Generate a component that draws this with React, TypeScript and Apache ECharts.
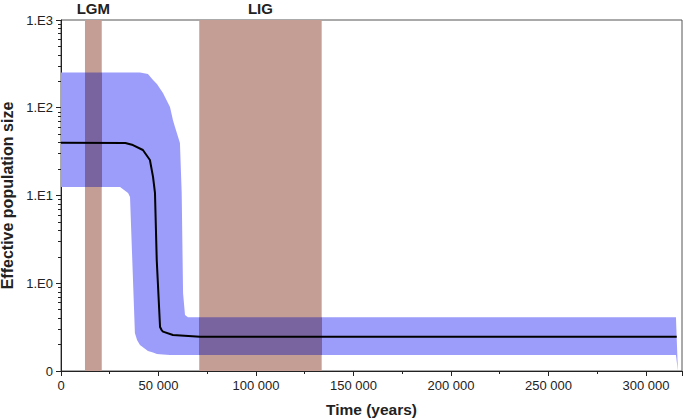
import React, { useEffect, useRef } from 'react';
import * as echarts from 'echarts';

// 95% HPD band (time in years, population size)
const bandTime = [0, 30300, 34400, 35400, 37900, 39000, 40500, 44600, 47200, 49200, 52300, 55900, 57400, 58500, 61000, 61900, 62600, 63600, 65100, 71300, 315400, 316400];
const bandLower = [12.5, 12.5, 10.7, 9.6, 0.271, 0.225, 0.198, 0.169, 0.162, 0.156, 0.154, 0.152, 0.152, 0.152, 0.152, 0.152, 0.152, 0.152, 0.152, 0.152, 0.152, 0.1];
const bandUpper = [253, 253, 253, 253, 253, 253, 253, 243, 207, 187, 147, 102, 72.5, 60, 39.7, 10.7, 0.775, 0.435, 0.41, 0.41, 0.41, 0.1];

// median line
const medianTime = [0, 33000, 36900, 42000, 45600, 47200, 48200, 49100, 50800, 51600, 52300, 57400, 71300, 315800];
const medianValue = [40, 39.6, 37.6, 33, 25.4, 16.3, 10.7, 1.84, 0.317, 0.293, 0.281, 0.257, 0.245, 0.245];

// climatic periods
const periodNames = ['LGM', 'LIG'];
const periodStart = [12300, 70900];
const periodEnd = [20900, 133700];

// axes
const xMin = 0;
const xMax = 318500;
const xInterval = 50000;
const xMinorTicks = [25000, 75000, 125000, 175000, 225000, 275000];
const yDecades = [0.1, 1, 10, 100, 1000];
const yTickLabels = ['0', '1.E0', '1.E1', '1.E2', '1.E3'];
const minorMultipliers = [2, 3, 4, 5, 6, 7, 8, 9];

const BLUE = '#9c9cfb';
const PURPLE = '#7a64a0';
const BROWN = '#c49e94';
const TEXT = '#222';
const FONT = '"Liberation Sans", Arial, sans-serif';

function fmtX(v: number): string {
  if (v % xInterval !== 0) return '';
  return String(v).replace(/\B(?=(\d{3})+(?!\d))/g, ' ');
}

function fmtY(v: number): string {
  for (let i = 0; i < yDecades.length; i++) {
    if (Math.abs(Math.log10(v) - Math.log10(yDecades[i])) < 1e-6) return yTickLabels[i];
  }
  return '';
}

export default function App() {
  const ref = useRef<HTMLDivElement>(null);
  useEffect(() => {
    if (!ref.current) return;
    const chart = echarts.init(ref.current, undefined, { renderer: 'svg' });
    const yMinor: number[] = [];
    yDecades.slice(0, -1).forEach((d) => minorMultipliers.forEach((m) => yMinor.push(d * m)));

    const renderBand = (params: any, api: any) => {
      if (params.dataIndex !== 0) return null;
      const n = bandTime.length;
      const top: number[][] = [];
      const bottom: number[][] = [];
      for (let i = 0; i < n; i++) {
        const t = api.value(0, i);
        top.push(api.coord([t, api.value(2, i)]));
        bottom.push(api.coord([t, api.value(1, i)]));
      }
      const points = top.concat(bottom.reverse());
      const left = api.coord([xMin, 1])[0];
      const right = api.coord([xMax, 1])[0];
      const w = right - left;
      const stops: any[] = [{ offset: 0, color: BLUE }];
      periodStart.forEach((s, i) => {
        const a = Math.max(0, Math.min(1, (api.coord([s, 1])[0] - left) / w));
        const b = Math.max(0, Math.min(1, (api.coord([periodEnd[i], 1])[0] - left) / w));
        stops.push({ offset: a, color: BLUE }, { offset: a, color: PURPLE }, { offset: b, color: PURPLE }, { offset: b, color: BLUE });
      });
      stops.push({ offset: 1, color: BLUE });
      return {
        type: 'polygon',
        shape: { points },
        style: {
          fill: new echarts.graphic.LinearGradient(left, 0, right, 0, stops, true),
          stroke: 'none',
        },
      };
    };

    const axisLineStyle = { color: TEXT, width: 1 };
    const option: any = {
      animation: false,
      textStyle: { fontFamily: FONT },
      grid: {
        left: 61, right: 3, top: 20, bottom: 48,
        show: true, borderColor: '#555', borderWidth: 1, backgroundColor: '#fff',
        outerBoundsMode: 'none',
      },
      xAxis: [
        {
          type: 'value', min: xMin, max: xMax, interval: xInterval,
          name: 'Time (years)', nameLocation: 'middle', nameGap: 30,
          nameTextStyle: { fontSize: 15.5, fontWeight: 'bold', color: TEXT, fontFamily: FONT },
          axisLine: { show: true, onZero: false, lineStyle: axisLineStyle },
          axisTick: { show: true, length: 5, lineStyle: axisLineStyle },
          minorTick: { show: false },
          axisLabel: { formatter: fmtX, fontSize: 13, color: TEXT, margin: 8, fontFamily: FONT },
          splitLine: { show: false },
        },
        {
          type: 'value', min: xMin, max: xMax, position: 'bottom',
          axisLine: { show: false },
          axisTick: { show: true, length: 3, lineStyle: axisLineStyle, customValues: xMinorTicks },
          axisLabel: { show: false },
          splitLine: { show: false },
        },
      ],
      yAxis: [
        {
          type: 'log', logBase: 10, min: yDecades[0], max: yDecades[yDecades.length - 1],
          name: 'Effective population size', nameLocation: 'middle', nameGap: 37,
          nameTextStyle: { fontSize: 16, fontWeight: 'bold', color: TEXT, fontFamily: FONT },
          axisLine: { show: true, onZero: false, lineStyle: axisLineStyle },
          axisTick: { show: true, length: 5, lineStyle: axisLineStyle, customValues: yDecades },
          axisLabel: { formatter: fmtY, fontSize: 13, color: TEXT, margin: 8, fontFamily: FONT, customValues: yDecades },
          splitLine: { show: false },
          minorTick: { show: false },
        },
        {
          type: 'log', logBase: 10, min: yDecades[0], max: yDecades[yDecades.length - 1], position: 'left',
          axisLine: { show: false },
          axisTick: { show: true, length: 3, lineStyle: axisLineStyle, customValues: yMinor },
          axisLabel: { show: false },
          splitLine: { show: false },
        },
      ],
      series: [
        {
          name: 'periods', type: 'line', symbol: 'none', silent: true, z: 1,
          data: [],
          markArea: {
            silent: true,
            itemStyle: { color: BROWN, opacity: 1 },
            label: { show: true, position: 'top', distance: 4, fontSize: 15, fontWeight: 'bold', color: TEXT, fontFamily: FONT },
            data: periodNames.map((n, i) => [{ name: n, xAxis: periodStart[i] }, { xAxis: periodEnd[i] }]),
          },
        },
        {
          name: 'band', type: 'custom', silent: true, z: 2, clip: true,
          renderItem: renderBand,
          encode: { x: 0, y: [1, 2] },
          data: bandTime.map((t, i) => [t, bandLower[i], bandUpper[i]]),
        },
        {
          name: 'median', type: 'line', symbol: 'none', silent: true, z: 3,
          data: medianTime.map((t, i) => [t, medianValue[i]]),
          lineStyle: { color: '#000', width: 2 },
        },
      ],
    };
    chart.setOption(option);
    return () => chart.dispose();
  }, []);
  return <div ref={ref} style={{ position: 'absolute', left: 0, top: 0, width: 685, height: 419 }} />;
}
